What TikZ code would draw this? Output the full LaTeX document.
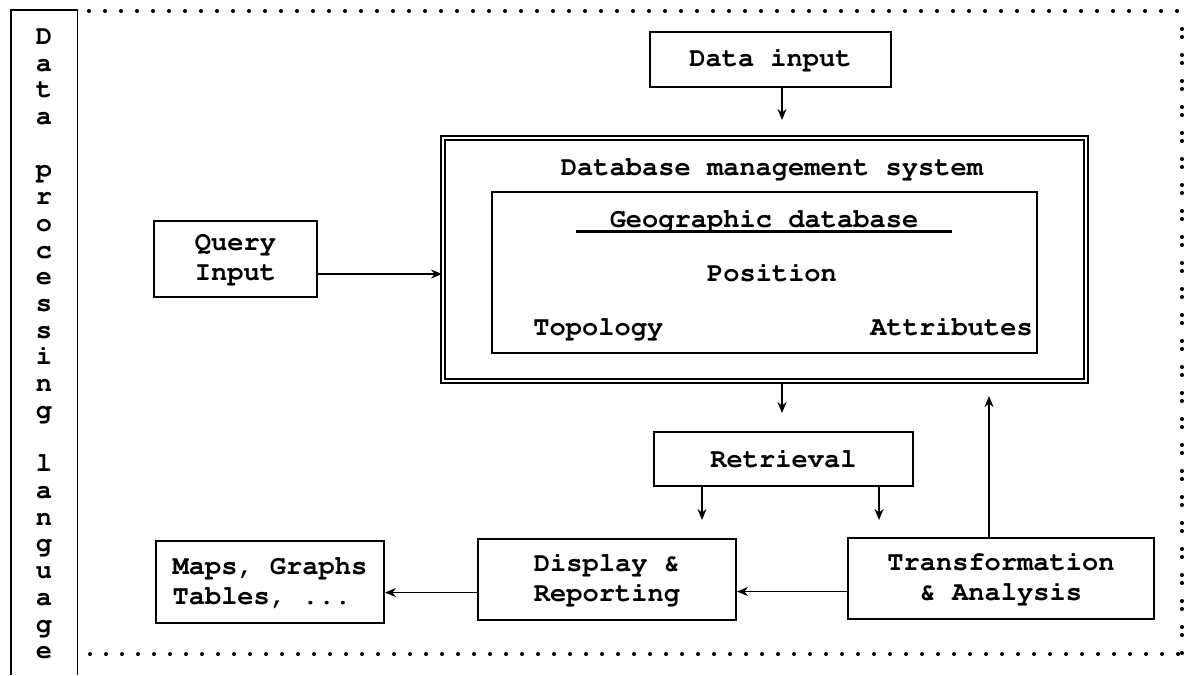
\documentclass[tikz,border=0pt]{standalone}
\usepackage[T1]{fontenc}
\usepackage{courier}
\renewcommand{\familydefault}{\ttdefault}
\usetikzlibrary{positioning,arrows.meta}

\tikzset{
  blk/.style={draw,line width=1.1pt,anchor=south west,align=center,inner sep=0pt},
  flow/.style={line width=1pt,-{Stealth[length=2.2mm,width=1.8mm]}},
  dots/.style={line width=2.3pt,line cap=round,dash pattern=on 0pt off 0.32cm},
}

\begin{document}
\begin{tikzpicture}[font=\fontsize{15.4}{17}\selectfont\bfseries,inner sep=0pt]
  \useasboundingbox (0,0) rectangle (23.74,13.5);

  % language column, open at the bottom
  \draw[line width=1.1pt] (0.22,0) |- (1.55,13.3) -- (1.55,0);
  \node[anchor=north,align=center,font=\fontsize{15.4}{15.2}\selectfont\bfseries] (lang) at (0.88,12.92)
    {D\\a\\t\\a\\~\\p\\r\\o\\c\\e\\s\\s\\i\\n\\g\\~\\l\\a\\n\\g\\u\\a\\g\\e};

  % dotted frame round the system
  \draw[dots] (1.78,13.28) -- (23.6,13.28);
  \draw[dots] (1.8,0.42) -- (23.6,0.42);
  \draw[line width=2.3pt,line cap=round,dash pattern=on 0pt off 0.16cm on 0pt off 0.36cm] (23.64,12.92) -- (23.64,0.42);

  \node[blk,minimum width=4.82cm,minimum height=1.1cm] (datain) at (12.98,11.74) {Data input};

  % DBMS with the geographic database inside
  \node[blk,double,double distance=1.4pt,line width=1pt,minimum width=12.86cm,minimum height=4.86cm] (dbms) at (8.84,5.86) {};
  \node[blk,minimum width=10.9cm,minimum height=3.22cm] (geodb) at (9.82,6.42) {};
  \node[anchor=base] (dbmstitle) at (15.44,10.0) {Database management system};
  \node[anchor=base] (geotitle) at (15.28,8.96) {Geographic database};
  \draw[line width=1.2pt] ([xshift=-0.66cm,yshift=-0.09cm]geotitle.base west) -- ([xshift=0.66cm,yshift=-0.09cm]geotitle.base east);
  \node[anchor=base] (position) at (15.44,7.88) {Position};
  \node[anchor=base west] (topology) at (10.66,6.8) {Topology};
  \node[anchor=base west] (attrib) at (17.4,6.8) {Attributes};

  \node[blk,minimum width=3.26cm,minimum height=1.52cm] (query) at (3.06,7.54) {Query\\Input};
  \node[blk,minimum width=5.18cm,minimum height=1.08cm] (retrieval) at (13.06,3.76) {Retrieval};
  \node[blk,minimum width=4.56cm,minimum height=1.64cm,align=left] (maps) at (3.1,1.02) {Maps, Graphs\\Tables, ...};
  \node[blk,minimum width=5.16cm,minimum height=1.62cm,align=left] (display) at (9.54,1.08) {Display \&\\Reporting};
  \node[blk,minimum width=6.12cm,minimum height=1.62cm] (transform) at (16.94,1.1) {Transformation\\\& Analysis};

  % arrow columns
  \coordinate (col) at (15.64,0);
  \coordinate (colL) at (14.04,0);
  \coordinate (colR) at (17.58,0);
  \coordinate (colT) at (19.78,0);

  \draw[flow] (datain.south -| col) -- ++(0,-0.64);
  \draw[flow] ([yshift=-0.3cm]query.east) -- ([yshift=-0.3cm]query.east -| dbms.west);
  \draw[flow] (dbms.south -| col) -- ++(0,-0.62);
  \draw[flow] (retrieval.south -| colL) -- ++(0,-0.66);
  \draw[flow] (retrieval.south -| colR) -- ++(0,-0.66);
  \draw[flow] (transform.north -| colT) -- ++(0,2.82);
  \draw[flow] ([yshift=-0.26cm]transform.west) -- ([yshift=-0.26cm]transform.west -| display.east);
  \draw[flow] ([yshift=-0.26cm]display.west) -- ([yshift=-0.26cm]display.west -| maps.east);
\end{tikzpicture}
\end{document}
